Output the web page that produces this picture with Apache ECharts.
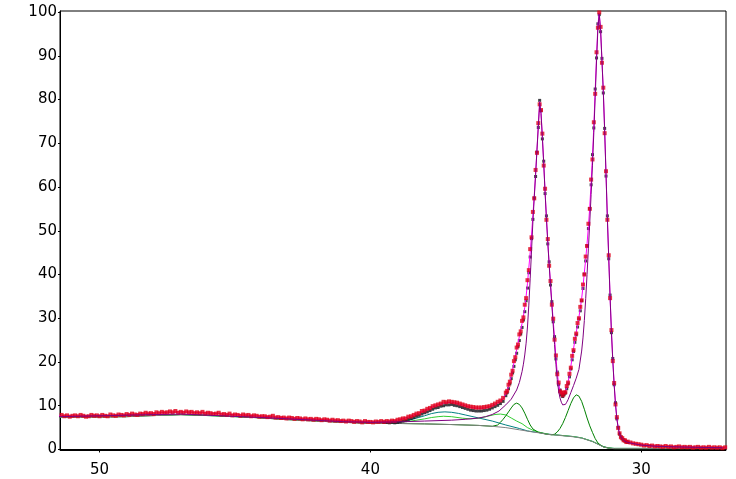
<!DOCTYPE html>
<html><head><meta charset="utf-8">
<script src="https://cdn.jsdelivr.net/npm/echarts@6/dist/echarts.min.js"></script>
<style>html,body{margin:0;padding:0;background:#fff}#c{width:736px;height:479px}</style>
</head><body><div id="c"></div>
<script>
// ---- tick labels ----
const xTicks = [30, 40, 50];
const yTicks = [0, 10, 20, 30, 40, 50, 60, 70, 80, 90, 100];

// ---- measured counts, scan 1 (red), sampled on the instrument grid ----
const scanHighStart = 51.4, scanHighStep = 0.1;
const scanHigh = [
7.9,7.6,7.8,7.5,7.7, 7.8,7.6,7.9,7.7,7.5, 7.6,7.9,7.7,7.8,7.6, 7.9,7.7,7.6,8.0,7.8,
7.7,8.0,7.9,7.8,8.1, 7.9,8.2,8.0,7.9,8.2, 8.1,8.4,8.2,8.3,8.1, 8.5,8.3,8.6,8.4,8.5,
8.7,8.5,8.8,8.4,8.6, 8.4,8.7,8.5,8.6,8.3, 8.5,8.3,8.6,8.2,8.4, 8.3,8.1,8.2,8.4,8.0,
8.1,7.9,8.2,7.8,8.0, 7.9,7.7,8.0,7.8,7.9, 7.6,7.8,7.7,7.5,7.6, 7.6,7.4,7.5,7.7,7.3,
7.4,7.2,7.3,7.1,7.3, 7.2,7.0,7.2,7.1,6.9, 7.1,6.9,7.0,6.8,7.0, 6.9,6.7,6.9,6.8,6.6,
6.8,6.6,6.7,6.5,6.6, 6.4,6.6,6.5,6.3,6.5, 6.4,6.2,6.5,6.3,6.3, 6.2,6.4,6.3,6.5,6.3,
6.5,6.4,6.6,6.5,6.8, 6.9,7.1,7.1,7.5,7.6, 7.9,8.2,8.3,8.8,8.9, 9.3,9.5,9.9,10.1,10.3,
10.5,10.9,10.8,11.0,10.9, 10.8,10.7,10.5,10.3,10.1, 9.9,9.8,9.7,9.6,9.6, 9.6,9.7,9.8,9.9,10.2,
10.5,10.9,11.2,11.8
];
const scanPeakStart = 35.0, scanPeakStep = 0.05;
const scanPeak = [
13.0,13.4,14.8,15.5,17.1,18.0,20.2,21.1,23.3,24.0,
26.3,27.0,29.4,30.2,33.1,34.6,38.7,41.0,45.8,48.5,
54.3,57.4,63.9,67.8,74.6,78.9,77.6,72.2,64.9,59.6,
52.5,48.1,42.0,38.5,33.1,29.9,25.1,21.5,17.2,15.3,
13.3,13.0,12.4,13.0,13.1,14.5,15.3,17.3,18.7,21.4,
22.7,25.3,26.5,28.9,30.0,32.6,34.1,37.7,40.0,44.1,
46.5,51.6,55.0,61.7,66.3,74.8,81.3,90.8,96.4,99.9,
96.6,88.4,82.7,72.3,63.6,52.5,44.4,34.6,27.3,20.2,
15.2,10.3,7.4,4.9,3.7,2.8,2.6,2.1,2.1,1.7,
1.8
];
const scanTailStart = 30.4, scanTailStep = 0.1;
const scanTail = [
1.6,1.4,1.3,1.2,1.1,0.9,1.0,0.8,0.9,0.7,0.8,0.7,0.6,0.8,0.6,0.7,0.5,0.6,
0.7,0.5,0.6,0.5,0.6,0.4,0.5,0.6,0.4,0.5,0.4,0.6,0.4,0.5,0.4,0.5,0.3,0.5
];

// ---- measured counts, scan 2 (black) ----
const scan2HighStart = 39.5, scan2HighStep = 0.1;
const scan2High = [
6.2,6.2,6.1,6.2,6.1,6.2,6.3,6.5,6.6,6.9,7.1,7.3,7.6,7.8,8.1,8.4,8.6,8.9,9.2,9.5,
9.6,9.9,10.0,10.2,10.2,10.3,10.1,10.0,9.8,9.6,9.4,9.2,9.0,8.9,8.8,8.8,8.8,8.9,9.0,9.2,
9.5,9.8,10.1,10.5,11.0
];
const scan2PeakStart = 35.0, scan2PeakStep = 0.05;
const scan2Peak = [
12.3,13.0,13.9,15.0,16.2,17.5,19.0,20.5,22.0,23.5,
24.9,26.4,27.9,29.6,31.5,34.0,36.9,40.4,44.0,48.2,
52.6,57.5,62.4,68.0,73.6,79.8,77.4,71.0,65.9,58.5,
53.4,47.0,42.9,37.6,33.8,29.2,25.8,20.7,17.7,14.8,
13.6,12.5,12.1,12.5,12.9,13.9,15.0,16.6,18.4,20.5,
22.4,24.5,26.2,28.0,29.8,31.7,34.0,36.8,40.1,43.1,
46.6,50.5,55.1,60.5,67.4,73.5,82.4,89.5,97.3,99.4,
95.5,89.4,81.5,73.4,62.5,53.4,43.6,35.3,26.7,20.8,
14.8,10.7,7.0,5.1,3.5,2.9,2.4,2.2,1.9,1.8,
1.6
];

// ---- fitted envelope (magenta) ----
const envelopeHigh = [[51.5,7.7],[51,7.7],[50.5,7.65],[50,7.7],[49.5,7.8],[49,7.9],[48.5,8.1],[48,8.3],[47.5,8.5],[47,8.6],[46.5,8.5],[46,8.35],[45.5,8.15],[45,7.95],[44.5,7.8],[44,7.6],[43.5,7.4],[43,7.2],[42.5,7.05],[42,6.9],[41.5,6.75],[41,6.6],[40.5,6.45],[40,6.3],[39.5,6.35],[39,6.7],[38.75,7.1],[38.5,7.6],[38.25,8.2],[38,8.9],[37.75,9.6],[37.5,10.2],[37.25,10.65],[37,10.8],[36.75,10.45],[36.5,9.95],[36.25,9.55],[36,9.4],[35.75,9.5],[35.5,10.0],[35.25,10.8],[35.1,11.5]];
const envelopePeakStart = 35.0, envelopePeakStep = 0.05;
const envelopePeak = [
12.8,13.5,14.5,15.6,16.8,18.2,19.8,21.3,22.8,24.3,
25.8,27.3,28.8,30.5,32.5,35,38,41.5,45,49,
53.5,58,63,68.5,74,79.5,77,71.5,65.5,59,
53,47.5,42.5,38,33.5,29.5,25.5,21,17.5,15,
13.5,12.8,12.6,12.8,13.3,14.2,15.5,17,19,21,
23,25,26.8,28.5,30.3,32.2,34.5,37.2,40.5,43.5,
47,51,55.5,61,67,74,82,90,97,99.8,
96,89,82,73,63,53,44,35,27,20.5,
15,10.5,7.2,5.0,3.6,2.9,2.5,2.2,2.0,1.8,
1.7
];
const envelopeTail = [[30.4,1.55],[30.2,1.3],[30,1.05],[29.5,0.8],[29,0.65],[28.5,0.55],[28,0.5],[27.5,0.45],[27,0.42],[26.8,0.4]];

// ---- components (each drawn on top of the background) ----
const background = [[51.5,7.4],[50,7.4],[49,7.5],[48,7.75],[47,7.95],[46,7.85],[45,7.55],[44,7.2],[43,6.8],[42,6.5],[41,6.2],[40,6.0],[39,5.95],[38,5.85],[37,5.7],[36,5.5],[35.5,5.3],[35,5.0],[34.5,4.5],[34,4.0],[33.7,3.75],[33.5,3.5],[33,3.2],[32.5,2.9],[32.2,2.6],[32,2.2],[31.8,1.8],[31.6,1.2],[31.4,0.6],[31.2,0.3],[31,0.2],[27,0.2]];
const broadTeal = [[51.5,7.45],[47,8.0],[44,7.25],[41,6.25],[40,6.05],[39.5,6.05],[39,6.25],[38.5,6.8],[38.25,7.25],[38,7.7],[37.75,8.2],[37.5,8.5],[37.25,8.6],[37,8.5],[36.75,8.25],[36.5,7.9],[36.25,7.55],[36,7.2],[35.5,6.5],[35,5.6],[34.5,4.8],[34.2,4.25],[34,4.05],[33.7,3.8],[33.5,3.55],[33,3.25],[32.5,2.95],[32.2,2.65],[32,2.25],[31.8,1.85],[31.6,1.25],[31.4,0.65],[31.2,0.35],[31,0.25],[27,0.25]];
const broadGreen = [[51.5,7.45],[47,8.0],[44,7.25],[41,6.25],[40,6.05],[39.5,6.0],[39,6.15],[38.5,6.5],[38,7.0],[37.75,7.3],[37.5,7.5],[37.3,7.6],[37,7.5],[36.6,7.15],[36.3,7.0],[36,7.15],[35.7,7.55],[35.4,8.0],[35.2,8.1],[35,7.9],[34.8,7.2],[34.6,6.5],[34.4,5.9],[34.2,5.0],[34,4.4],[33.7,3.85],[33.4,3.45],[33,3.25],[32.5,2.95],[32.2,2.65],[32,2.25],[31.8,1.85],[31.6,1.25],[31.4,0.65],[31.2,0.35],[31,0.25],[27,0.25]];
const oxideDoublet = [[51.5,7.4],[50,7.4],[49,7.5],[48,7.75],[47,7.95],[46,7.85],[45,7.55],[44,7.2],[43,6.8],[42,6.5],[41,6.2],[40,6.0],[39,5.95],[38,5.85],[37,5.7],[36,5.5],[35.5,5.3],[35.3,5.6],[35.2,6.2],[35.1,6.9],[35,7.7],[34.9,8.6],[34.8,9.5],[34.7,10.3],[34.6,10.6],[34.5,10.3],[34.4,9.5],[34.3,8.3],[34.2,6.9],[34.1,5.6],[34,4.7],[33.8,3.9],[33.5,3.5],[33.3,3.35],[33.2,3.5],[33.1,4.0],[33,4.8],[32.9,5.9],[32.8,7.3],[32.7,8.9],[32.6,10.5],[32.5,11.8],[32.4,12.5],[32.3,12.2],[32.2,11.0],[32.1,9.2],[32,7.2],[31.9,5.4],[31.8,3.9],[31.7,2.5],[31.6,1.5],[31.5,1.0],[31.4,0.6],[31.2,0.3],[31,0.2],[27,0.2]];
const metalDoublet = [[51.5,7.5],[47,8.1],[44,7.3],[41,6.35],[40,6.2],[39,6.3],[38,6.5],[37,6.7],[36.5,6.9],[36,7.2],[35.75,7.5],[35.5,8.0],[35.25,8.8],[35,10.2],[34.8,11.5],[34.6,13.6],[34.5,15.3],[34.4,17.8],[34.35,19.5],[34.3,21.6],[34.25,24.3],[34.2,28],[34.15,33],[34.1,39],[34.05,45.5],[34,52],[33.95,57.5],[33.9,62.8],[33.85,68.3],[33.8,73.8],[33.75,79.3],[33.7,76.8],[33.65,71.3],[33.6,65.3],[33.55,58.8],[33.5,52.8],[33.45,47.3],[33.4,42.3],[33.35,37.6],[33.3,33],[33.25,28.5],[33.2,24],[33.15,19.5],[33.1,16],[33.05,13.4],[33,11.8],[32.95,10.8],[32.9,10.2],[32.85,10.1],[32.8,10.3],[32.75,10.8],[32.7,11.4],[32.6,13.0],[32.5,14.6],[32.4,16.3],[32.3,18.3],[32.2,22.5],[32.15,25.5],[32.1,29.5],[32.05,34.5],[32,40],[31.95,46],[31.9,52],[31.85,58.3],[31.8,65],[31.75,72.5],[31.7,80.5],[31.65,88.8],[31.6,96.2],[31.55,99.5],[31.5,95.8],[31.45,88.8],[31.4,81.8],[31.35,72.8],[31.3,62.8],[31.25,52.8],[31.2,43.8],[31.15,34.8],[31.1,26.8],[31.05,20.3],[31,14.8],[30.95,10.3],[30.9,7.0],[30.85,4.9],[30.8,3.5],[30.7,2.4],[30.6,1.9],[30.5,1.6],[30.3,1.35],[30,1.0],[29.5,0.75],[29,0.65],[28,0.5],[27,0.4]];

function onGrid(start, step, vals) {
  return vals.map((v, i) => [Math.round((start - i * step) * 100) / 100, v]);
}
const redPoints = onGrid(scanHighStart, scanHighStep, scanHigh)
  .concat(onGrid(scanPeakStart, scanPeakStep, scanPeak))
  .concat(onGrid(scanTailStart, scanTailStep, scanTail));
const blackPoints = onGrid(scan2HighStart, scan2HighStep, scan2High)
  .concat(onGrid(scan2PeakStart, scan2PeakStep, scan2Peak));
const envelope = envelopeHigh
  .concat(onGrid(envelopePeakStart, envelopePeakStep, envelopePeak))
  .concat(envelopeTail);

const chart = echarts.init(document.getElementById('c'), null, {renderer: 'canvas'});
const font = 'DejaVu Sans, Verdana, sans-serif';
function lineSeries(data, color, z, width) {
  return {type: 'line', data: data, showSymbol: false, symbol: 'none', z: z,
    lineStyle: {color: color, width: width || 1}, silent: true, clip: true};
}
chart.setOption({
  animation: false,
  backgroundColor: '#fff',
  grid: {left: 60, right: 10, top: 11, bottom: 28.5, show: true, borderColor: '#000', borderWidth: 1, containLabel: false},
  xAxis: {
    type: 'value', inverse: true, min: 26.87, max: 51.46,
    splitLine: {show: false},
    axisLine: {lineStyle: {color: '#000', width: 1}},
    axisTick: {show: true, length: 3, lineStyle: {color: '#000'}, customValues: xTicks},
    axisLabel: {customValues: xTicks, color: '#000', fontSize: 15, fontFamily: font, margin: 12}
  },
  yAxis: {
    type: 'value', min: -0.23, max: 100.23,
    splitLine: {show: false},
    axisLine: {show: true, lineStyle: {color: '#000', width: 1}},
    axisTick: {show: true, length: 2, lineStyle: {color: '#000'}, customValues: yTicks},
    axisLabel: {customValues: yTicks, color: '#000', fontSize: 15, fontFamily: font, margin: 3}
  },
  series: [
    lineSeries(broadTeal, '#008080', 2),
    lineSeries(broadGreen, '#33cc33', 2),
    lineSeries(oxideDoublet, '#008000', 2),
    lineSeries(background, '#808080', 2.5),
    {type: 'scatter', data: blackPoints, symbol: 'rect', symbolSize: 3, z: 3, silent: true,
      itemStyle: {color: '#101018'}},
    lineSeries(envelope, '#ff00ff', 4, 1),
    {type: 'scatter', data: redPoints, symbol: 'rect', symbolSize: 4, z: 5, silent: true,
      itemStyle: {color: '#e0001c'}},
    lineSeries(metalDoublet, '#800080', 6, 1)
  ]
});
</script>
</body></html>
